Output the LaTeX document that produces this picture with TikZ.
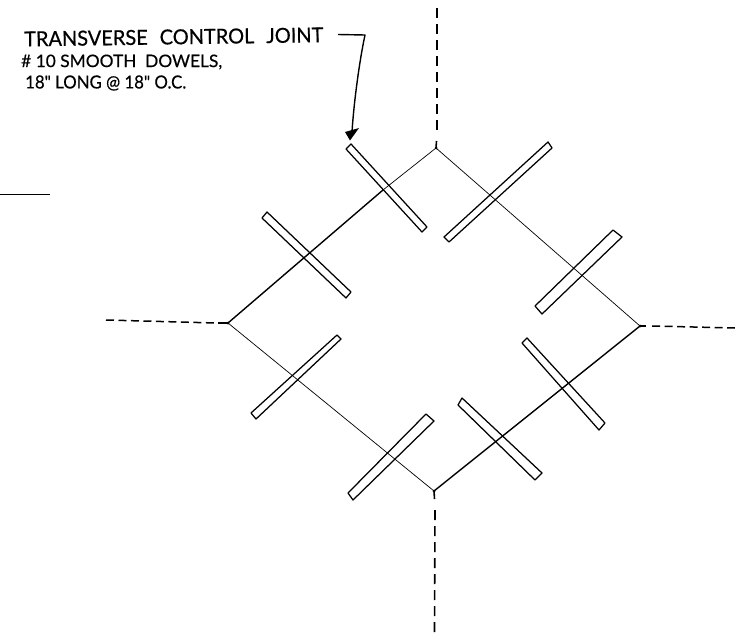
\documentclass[tikz,border=0pt]{standalone}
\usepackage{fontspec}
\usepackage{graphicx}
\setmainfont{Lato}
\newfontfamily\handfont[FakeBold=0.5,Ligatures=Common]{Lato}
\tikzset{
  dowel/.style={draw=black,line width=1.25pt,line join=round},
  thinjoint/.style={draw=black,line width=0.7pt},
  thickjoint/.style={draw=black,line width=1.4pt},
  dashv/.style={draw=black,line width=1.6pt,dash pattern=on 10pt off 6pt},
  dashh/.style={draw=black,line width=1.5pt,dash pattern=on 8pt off 4.5pt},
  joint end/.style={draw=black,line width=1.6pt},
  vertex/.style={fill=black},
  note/.style={inner sep=0pt,anchor=west,text=black,font=\handfont}
}
\begin{document}
\begin{tikzpicture}[x=1pt,y=-1pt]
\useasboundingbox (0,0) rectangle (735,634);
% vertices
\coordinate (T) at (436,148);
\coordinate (L) at (228,323);
\coordinate (B) at (434,491);
\coordinate (R) at (640,326);
% dashed joints
\coordinate (Te) at (437,8);
\coordinate (Le) at (106,320);
\coordinate (Be) at (434.5,632);
\coordinate (Re) at (735,328);
\draw[dashv] (Te) -- (437,136);
\draw[dashh] (Le) -- (216,323);
\draw[dashv] (Be) -- (435,505);
\draw[dashh] (Re) -- (652,326);
\draw[joint end] (436.5,141) -- (T);
\draw[joint end] (434.5,499) -- (B);
\draw[joint end] (218,323) -- (L);
\draw[joint end] (646,326) -- (R);
% diamond
\draw[thinjoint] (T) -- (R);
\draw[thinjoint] (L) -- (B);
\draw[thinjoint] (T) -- (383,190);
\draw[thickjoint] (383,190) -- (L);
\draw[thickjoint] (B) -- (R);
\fill[vertex] (T) circle (1.5pt);
\fill[vertex] (L) circle (1.5pt);
\fill[vertex] (B) circle (1.5pt);
\fill[vertex] (R) circle (1.5pt);
% dowels
\draw[dowel] (346,149) -- (351,144) -- (427,227) -- (422,232) -- cycle;
\draw[dowel] (444,237) -- (548,142) -- (552,148) -- (449,242) -- cycle;
\draw[dowel] (535,306) -- (613,230) -- (622,237) -- (542,314) -- cycle;
\draw[dowel] (262,218) -- (267,212) -- (351,292) -- (346,298) -- cycle;
\draw[dowel] (251,413) -- (337,335) -- (341,339) -- (256,419) -- cycle;
\draw[dowel] (348,493) -- (426,414) -- (434,421) -- (353,500) -- cycle;
\draw[dowel] (458,405) -- (462,398) -- (542,473) -- (535,480) -- cycle;
\draw[dowel] (522,343) -- (527,338) -- (605,423) -- (599,430) -- cycle;
% stray line
\coordinate (sa) at (0,194);
\coordinate (sb) at (50,194);
\draw[line width=0.8pt] (sa) -- (sb);
% labels
\node[note,rotate=0.8] (n1) at (24,39) {\resizebox{299pt}{15pt}{TRANSVERSE\hspace{0.6em}CONTROL\hspace{0.6em}JOINT}};
\node[note] (n2) at (21,62) {\resizebox{201pt}{12.5pt}{\# 10 SMOOTH\hspace{0.5em}DOWELS,}};
\node[note] (n3) at (25,83) {\resizebox{161pt}{13pt}{18" LONG @ 18" O.C.}};
% leader
\coordinate (lk) at (365,35);
\coordinate (lt) at (350,140.5);
\draw[line width=1.4pt,line join=round] (338,34.5) -- (lk) .. controls (360,58) and (354,100) .. (352,132);
\fill[black] (345,132) -- (359,128) -- (lt) -- cycle;
\end{tikzpicture}
\end{document}
